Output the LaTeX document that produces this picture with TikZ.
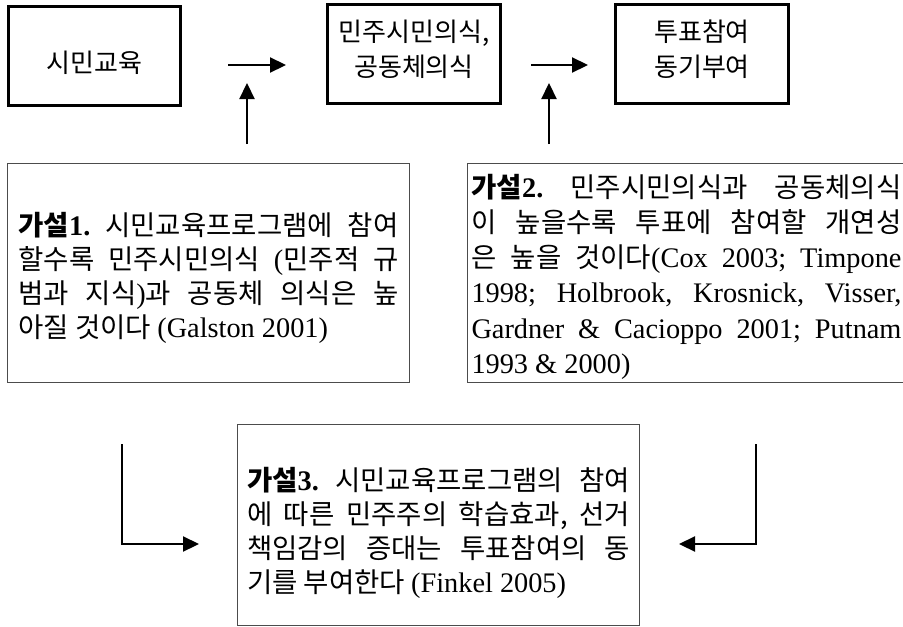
\documentclass[tikz,border=0pt]{standalone}
\usepackage{fontspec}
\setmainfont{Noto Sans CJK KR}
\newfontfamily\latn{Liberation Serif}[Scale=1.03]
\usetikzlibrary{arrows.meta}
\newcommand\jl[1]{\hbox to \hsize{#1}}
\begin{document}
\begin{tikzpicture}[x=1pt,y=-1pt,
  topbox/.style={draw, line width=3pt, inner sep=0pt, minimum width=173pt,
    minimum height=99pt, align=center, font=\fontsize{26}{35}\selectfont},
  hypbox/.style={draw=black!70, line width=1.3pt, inner sep=0pt,
    font=\fontsize{27.5}{34}\selectfont},
  arr/.style={line width=2.2pt, -{Triangle[length=16pt,width=15pt]}}]
\useasboundingbox (0,0) rectangle (903,627);

% top row
\node[topbox, minimum width=172pt] (b1) at (94.5,56)
  {\rule{0pt}{36.4pt}시민교육\rule[-4pt]{0pt}{0pt}};
\node[topbox] (b2) at (414,54)
  {\rule{0pt}{23pt}민주시민의식,\\공동체의식\rule[-12.6pt]{0pt}{0pt}};
\node[topbox] (b3) at (702,54)
  {\rule{0pt}{23pt}투표참여\\동기부여\rule[-12.6pt]{0pt}{0pt}};

% hypothesis 1
\node[hypbox, minimum width=402pt, minimum height=219pt] (h1) at (208.5,273)
 {\vbox{\hsize=380pt \baselineskip=34pt \lineskiplimit=-50pt
  \jl{\rule{0pt}{33pt}{\bfseries 가설{\latn 1.}}\hfill 시민교육프로그램에\hfill 참여}
  \jl{할수록\hfill 민주시민의식\hfill{\latn(}민주적\hfill 규}
  \jl{범과\hfill 지식{\latn)}과\hfill 공동체\hfill 의식은\hfill 높}
  \jl{아질 것이다 {\latn(Galston 2001)}\rule[-6.6pt]{0pt}{0pt}\hfil}}};

% hypothesis 2
\node[hypbox, minimum width=438pt, minimum height=219pt] (h2) at (686.5,273)
 {\vbox{\hsize=430pt \baselineskip=35.2pt \lineskiplimit=-50pt
  \jl{\rule{0pt}{31pt}{\bfseries 가설{\latn 2.}}\hfill 민주시민의식과\hfill 공동체의식}
  \jl{이\hfill 높을수록\hfill 투표에\hfill 참여할\hfill 개연성}
  \jl{은\hfill 높을\hfill 것이다{\latn(Cox}\hfill{\latn 2003;}\hfill{\latn Timpone}}
  \jl{{\latn 1998;}\hfill{\latn Holbrook,}\hfill{\latn Krosnick,}\hfill{\latn Visser,}}
  \jl{{\latn Gardner}\hfill{\latn\&}\hfill{\latn Cacioppo}\hfill{\latn 2001;}\hfill{\latn Putnam}}
  \jl{{\latn 1993 \& 2000)}\rule[-6.6pt]{0pt}{0pt}\hfil}}};

% hypothesis 3
\node[hypbox, minimum width=402pt, minimum height=201pt] (h3) at (438.5,525)
 {\vbox{\hsize=383pt \baselineskip=34pt \lineskiplimit=-50pt
  \jl{\rule{0pt}{39pt}{\bfseries 가설{\latn 3.}}\hfill 시민교육프로그램의\hfill 참여}
  \jl{에\hfill 따른\hfill 민주주의\hfill 학습효과,\hfill 선거}
  \jl{책임감의\hfill 증대는\hfill 투표참여의\hfill 동}
  \jl{기를 부여한다 {\latn(Finkel 2005)}\rule[-6.6pt]{0pt}{0pt}\hfil}}};

% arrow end points
\coordinate (a1s) at (228,65);  \coordinate (a1e) at (286,65);
\coordinate (a2s) at (531,65);  \coordinate (a2e) at (588,65);
\coordinate (v1s) at (247,144); \coordinate (v1e) at (247,83);
\coordinate (v2s) at (549,144); \coordinate (v2e) at (549,83);
\coordinate (l1s) at (122,444); \coordinate (l1e) at (199,544);
\coordinate (r1s) at (756,444); \coordinate (r1e) at (679,544);

\draw[arr] (a1s) -- (a1e);
\draw[arr] (a2s) -- (a2e);
\draw[arr] (v1s) -- (v1e);
\draw[arr] (v2s) -- (v2e);
\draw[arr] (l1s) |- (l1e);
\draw[arr] (r1s) |- (r1e);
\end{tikzpicture}
\end{document}
